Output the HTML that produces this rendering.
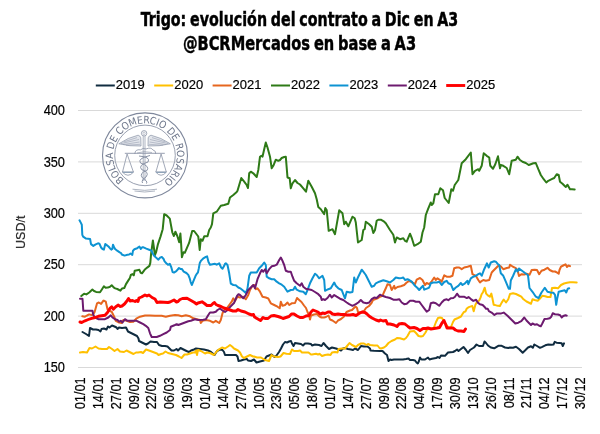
<!DOCTYPE html>
<html><head><meta charset="utf-8"><style>
html,body{margin:0;padding:0;background:#fff;width:600px;height:434px;overflow:hidden}
svg{display:block}
.ax{font-family:"Liberation Sans", Arial, sans-serif;font-size:13px;fill:#000;stroke:#000;stroke-width:0.18px}
.tt{font-family:"DejaVu Sans Condensed","DejaVu Sans",sans-serif;font-stretch:condensed;font-size:20px;word-spacing:-1.5px;font-weight:bold;fill:#000;stroke:#000;stroke-width:0.45px}
</style></head><body>
<svg width="600" height="434" viewBox="0 0 600 434">
<line x1="78" y1="110.5" x2="582" y2="110.5" stroke="#d9d9d9" stroke-width="1"/>
<line x1="78" y1="161.9" x2="582" y2="161.9" stroke="#d9d9d9" stroke-width="1"/>
<line x1="78" y1="213.3" x2="582" y2="213.3" stroke="#d9d9d9" stroke-width="1"/>
<line x1="78" y1="264.7" x2="582" y2="264.7" stroke="#d9d9d9" stroke-width="1"/>
<line x1="78" y1="316.1" x2="582" y2="316.1" stroke="#d9d9d9" stroke-width="1"/>
<line x1="78" y1="367.5" x2="582" y2="367.5" stroke="#d9d9d9" stroke-width="1"/>
<text transform="translate(65,115.25) scale(0.985,1.1)" text-anchor="end" class="ax">400</text>
<text transform="translate(65,166.65) scale(0.985,1.1)" text-anchor="end" class="ax">350</text>
<text transform="translate(65,218.05) scale(0.985,1.1)" text-anchor="end" class="ax">300</text>
<text transform="translate(65,269.45) scale(0.985,1.1)" text-anchor="end" class="ax">250</text>
<text transform="translate(65,320.85) scale(0.985,1.1)" text-anchor="end" class="ax">200</text>
<text transform="translate(65,372.25) scale(0.985,1.1)" text-anchor="end" class="ax">150</text>
<text transform="translate(85.00,377.3) rotate(-90) scale(0.985,1.1)" text-anchor="end" class="ax">01/01</text>
<text transform="translate(102.86,377.3) rotate(-90) scale(0.985,1.1)" text-anchor="end" class="ax">14/01</text>
<text transform="translate(120.71,377.3) rotate(-90) scale(0.985,1.1)" text-anchor="end" class="ax">27/01</text>
<text transform="translate(138.57,377.3) rotate(-90) scale(0.985,1.1)" text-anchor="end" class="ax">09/02</text>
<text transform="translate(156.43,377.3) rotate(-90) scale(0.985,1.1)" text-anchor="end" class="ax">22/02</text>
<text transform="translate(174.29,377.3) rotate(-90) scale(0.985,1.1)" text-anchor="end" class="ax">06/03</text>
<text transform="translate(192.14,377.3) rotate(-90) scale(0.985,1.1)" text-anchor="end" class="ax">19/03</text>
<text transform="translate(210.00,377.3) rotate(-90) scale(0.985,1.1)" text-anchor="end" class="ax">01/04</text>
<text transform="translate(227.86,377.3) rotate(-90) scale(0.985,1.1)" text-anchor="end" class="ax">14/04</text>
<text transform="translate(245.71,377.3) rotate(-90) scale(0.985,1.1)" text-anchor="end" class="ax">27/04</text>
<text transform="translate(263.57,377.3) rotate(-90) scale(0.985,1.1)" text-anchor="end" class="ax">10/05</text>
<text transform="translate(281.43,377.3) rotate(-90) scale(0.985,1.1)" text-anchor="end" class="ax">23/05</text>
<text transform="translate(299.29,377.3) rotate(-90) scale(0.985,1.1)" text-anchor="end" class="ax">05/06</text>
<text transform="translate(317.14,377.3) rotate(-90) scale(0.985,1.1)" text-anchor="end" class="ax">18/06</text>
<text transform="translate(335.00,377.3) rotate(-90) scale(0.985,1.1)" text-anchor="end" class="ax">01/07</text>
<text transform="translate(352.86,377.3) rotate(-90) scale(0.985,1.1)" text-anchor="end" class="ax">14/07</text>
<text transform="translate(370.71,377.3) rotate(-90) scale(0.985,1.1)" text-anchor="end" class="ax">27/07</text>
<text transform="translate(388.57,377.3) rotate(-90) scale(0.985,1.1)" text-anchor="end" class="ax">09/08</text>
<text transform="translate(406.43,377.3) rotate(-90) scale(0.985,1.1)" text-anchor="end" class="ax">22/08</text>
<text transform="translate(424.29,377.3) rotate(-90) scale(0.985,1.1)" text-anchor="end" class="ax">04/09</text>
<text transform="translate(442.14,377.3) rotate(-90) scale(0.985,1.1)" text-anchor="end" class="ax">17/09</text>
<text transform="translate(460.00,377.3) rotate(-90) scale(0.985,1.1)" text-anchor="end" class="ax">30/09</text>
<text transform="translate(477.86,377.3) rotate(-90) scale(0.985,1.1)" text-anchor="end" class="ax">13/10</text>
<text transform="translate(495.71,377.3) rotate(-90) scale(0.985,1.1)" text-anchor="end" class="ax">26/10</text>
<text transform="translate(513.57,377.3) rotate(-90) scale(0.985,1.1)" text-anchor="end" class="ax">08/11</text>
<text transform="translate(531.43,377.3) rotate(-90) scale(0.985,1.1)" text-anchor="end" class="ax">21/11</text>
<text transform="translate(549.29,377.3) rotate(-90) scale(0.985,1.1)" text-anchor="end" class="ax">04/12</text>
<text transform="translate(567.14,377.3) rotate(-90) scale(0.985,1.1)" text-anchor="end" class="ax">17/12</text>
<text transform="translate(585.00,377.3) rotate(-90) scale(0.985,1.1)" text-anchor="end" class="ax">30/12</text>
<text transform="translate(24.6,232.3) rotate(-90)" text-anchor="middle" class="ax" style="font-size:12.5px;fill:#333">USD/t</text>
<g id="logo" fill="none" stroke="#7f889c" stroke-width="0.9">
<circle cx="145.0" cy="155.4" r="42.5" stroke-width="1.1"/>
<circle cx="145.0" cy="155.4" r="30.3" stroke-width="0.8"/>
<path id="arc" d="M 124.26 179.77 A 32.0 32.0 0 1 1 163.76 181.32" stroke="none"/>
<text font-family="DejaVu Sans Condensed, DejaVu Sans, sans-serif" font-stretch="condensed" font-size="10.2" fill="#6e778b" stroke="none"><textPath href="#arc" textLength="158.4" lengthAdjust="spacing">BOLSA DE COMERCIO DE ROSARIO</textPath></text>
<g stroke="#8a93a6">
<circle cx="144.1" cy="133.3" r="2.7" stroke-width="0.8"/><circle cx="144.1" cy="133.3" r="1.2" stroke-width="0.5"/>
<path d="M143.2 136.1 V 181 M145 136.1 V 181" stroke-width="0.7"/>
<path d="M118.8 143.8 Q 128 137.5 138.1 135.2 Q 140 135.5 140.8 137.8 L 141 146 Q 130 146.5 118.8 143.8 Z" fill="#e2e5eb" stroke-width="0.7"/>
<path d="M170.4 143.8 Q 161 137.5 151 135.2 Q 149 135.5 148.2 137.8 L 148 146 Q 159 146.5 170.4 143.8 Z" fill="#e2e5eb" stroke-width="0.7"/>
<path d="M121 143.6 L 139 139.5 M123 144.6 L 139.5 142 M126 145.3 L 140 144.3 M124 141.8 L 137 137.6" stroke-width="0.5"/>
<path d="M168.2 143.6 L 150 139.5 M166.2 144.6 L 149.5 142 M163.2 145.3 L 149 144.3 M165.2 141.8 L 152 137.6" stroke-width="0.5"/>
<path d="M134.8 154 Q 135 149 140.5 149.8 Q 143 147.5 146 149 Q 151 146.8 153 150 Q 156 150.5 155.8 154" stroke-width="0.8"/><path d="M137 153 Q 144 150.5 152 152.5" stroke-width="0.6"/>
<path d="M124.8 153.3 H 164.8" stroke-width="0.9"/>
<path d="M127.1 154 L 122.5 172 M127.1 154 L 133.4 172 M122.3 172 H 133.6 Q 128 178.5 122.3 172" stroke-width="0.8"/>
<path d="M161.1 154 L 155.9 172 M161.1 154 L 166.3 172 M155.7 172 H 166.5 Q 161 178.5 155.7 172" stroke-width="0.8"/>
<path d="M122.8 172.4 H 133.2 M156.2 172.4 H 166" stroke="#8fa3b8" stroke-width="1.4"/>
<path d="M139 156 Q 151 157 148 162 Q 138 165 141.5 169.5 Q 150 172 146 177 Q 141 180 142.5 183 M150 155.5 Q 137 158.5 140.5 163 Q 150 166 147 170.5 Q 138.5 173 142.5 178 Q 148 181 146.5 183.5" stroke-width="1"/>
<path d="M132.5 189.2 Q 144.6 191.5 157 189.2 M134.5 191 Q 144.6 193 155 191" stroke-width="0.7"/>
</g>
</g>

<polyline points="82.5,332.0 86.0,334.0 89.0,336.0 90.0,328.0 93.0,329.5 96.0,329.5 98.5,330.0 100.5,331.5 101.5,329.0 104.0,328.5 106.5,329.5 108.0,326.5 109.5,327.5 112.0,325.5 114.5,326.5 116.5,327.5 117.5,329.0 119.0,327.5 122.0,328.0 126.0,327.5 128.0,331.5 131.0,333.0 134.0,334.5 137.0,336.0 138.5,338.5 139.0,341.0 142.0,342.5 146.0,344.5 148.0,343.5 150.5,341.5 154.0,342.0 157.0,342.0 159.0,345.0 162.0,346.0 165.0,346.0 167.5,346.5 169.5,348.5 171.5,350.5 174.0,350.5 176.5,349.0 178.0,350.5 180.5,348.0 183.5,349.5 186.5,351.0 189.0,352.0 191.0,350.5 194.0,349.5 196.0,348.5 200.0,349.0 204.0,349.5 208.0,350.5 211.0,352.0 214.5,355.0 217.0,351.0 220.0,349.5 222.5,350.0 224.0,352.0 225.0,355.0 228.0,355.0 232.0,355.0 236.0,355.0 237.5,356.5 238.5,361.0 241.0,360.5 244.0,359.5 247.0,359.0 248.0,360.5 251.0,361.0 254.0,359.5 256.5,362.5 260.0,361.5 264.0,360.5 266.5,356.5 269.0,355.5 271.5,354.5 274.5,357.0 276.5,355.5 279.0,352.0 281.0,348.5 283.0,344.5 285.0,342.0 287.0,342.5 289.0,341.5 291.0,341.0 292.0,343.5 293.5,346.0 295.0,343.0 298.0,343.5 301.0,344.0 303.0,345.5 305.0,343.5 308.0,343.5 311.0,344.0 312.0,345.5 315.0,344.5 319.0,345.0 321.5,346.0 323.5,343.0 326.0,346.0 329.0,349.0 332.0,347.5 336.0,348.5 339.0,349.5 341.0,350.5 343.0,348.5 345.0,348.0 348.0,349.0 351.0,349.5 353.0,350.0 355.0,348.5 358.0,350.0 361.0,346.0 364.0,346.5 367.5,346.5 370.0,348.5 370.5,350.5 374.0,350.8 380.0,351.0 382.5,351.0 385.0,353.5 387.0,355.0 388.0,359.0 388.5,361.0 390.0,359.5 391.5,360.0 394.0,359.5 398.0,359.5 403.0,359.5 406.0,359.0 408.5,358.5 410.0,360.0 413.0,360.0 415.0,360.5 416.5,362.5 417.8,363.5 419.0,361.0 420.0,357.5 421.5,359.5 425.0,359.5 428.0,357.5 429.5,359.5 432.0,358.8 436.0,358.0 438.0,357.0 439.5,358.0 441.0,355.5 445.0,355.8 448.0,352.5 453.0,352.0 455.0,351.0 457.0,349.5 458.5,351.0 461.0,349.0 463.5,347.0 466.0,350.0 468.0,353.0 470.0,350.0 474.0,347.5 476.5,344.5 479.0,346.0 483.0,346.0 484.5,341.5 486.0,343.0 488.0,345.5 490.8,347.5 494.2,348.3 498.3,345.8 501.7,345.8 505.0,347.5 508.3,348.0 510.0,347.5 513.0,347.8 516.0,346.8 519.0,349.0 522.7,352.7 525.0,350.5 528.0,347.5 531.0,346.3 532.8,347.8 534.3,344.5 537.0,346.0 540.0,347.8 542.3,346.8 545.3,345.3 548.3,344.5 551.3,344.8 553.5,344.5 554.7,341.8 556.5,342.7 559.5,343.0 561.7,343.3 562.8,346.0 564.0,343.3" fill="none" stroke="#102c40" stroke-width="2.0" stroke-linejoin="round" stroke-linecap="round"/>
<polyline points="80.0,352.5 83.0,352.0 87.0,352.5 89.5,348.0 92.0,348.5 95.5,346.5 98.5,348.5 102.0,349.0 107.0,349.0 109.0,347.0 112.0,349.0 114.5,351.0 117.5,349.0 120.0,351.5 124.0,352.0 126.5,350.5 129.5,352.0 133.5,354.0 136.0,352.5 138.0,352.5 141.0,352.0 143.0,353.0 146.0,349.5 149.0,350.5 153.0,352.0 157.0,353.5 158.5,355.0 161.0,354.0 163.0,353.5 165.5,351.5 168.0,353.0 172.0,354.0 176.0,355.0 179.0,356.5 181.5,358.0 184.5,354.5 187.0,354.5 190.0,353.5 193.0,352.5 195.0,352.5 196.0,350.5 197.0,355.0 198.0,350.0 201.0,351.0 205.0,353.5 207.0,352.5 210.0,353.0 214.0,355.0 217.0,351.0 219.5,349.0 222.0,347.5 225.0,348.5 228.0,346.5 230.0,345.0 232.0,346.5 234.0,348.5 238.0,350.5 240.0,352.5 242.0,356.5 244.0,358.0 247.0,356.5 250.0,355.0 253.0,356.5 254.0,356.5 257.0,357.5 261.0,357.5 265.0,360.0 269.0,361.0 271.5,355.0 274.0,356.5 278.0,357.0 280.5,356.5 283.5,353.0 286.5,353.8 290.0,354.0 292.0,349.5 294.0,351.0 298.0,351.0 300.0,350.5 302.0,352.5 305.0,352.5 308.5,352.5 311.0,354.5 312.0,354.5 316.0,353.8 318.0,354.5 319.5,353.8 322.0,356.0 325.0,355.0 328.0,354.5 330.5,355.0 332.0,352.5 335.0,352.0 337.5,352.5 338.5,349.0 342.0,348.5 345.0,348.5 347.5,345.5 349.5,343.0 352.0,345.0 356.0,347.0 358.0,345.0 361.0,343.5 364.0,343.5 366.5,345.0 368.0,344.0 370.0,345.0 374.0,345.5 377.5,345.5 379.5,348.0 381.0,348.5 384.0,347.5 386.0,346.0 388.5,343.0 391.5,341.0 395.0,339.5 397.0,338.0 400.0,338.2 404.0,339.5 406.0,338.0 407.5,336.0 410.0,331.5 414.0,331.0 416.0,333.0 418.5,336.0 421.0,336.5 423.0,336.0 425.5,332.5 427.0,329.5 430.0,328.5 433.5,328.5 436.0,322.0 438.0,318.0 440.0,317.5 442.0,318.0 445.0,323.0 449.0,328.0 451.0,327.0 453.0,322.0 454.5,319.5 458.0,318.0 461.0,316.5 462.5,314.0 464.0,311.9 465.4,311.6 466.8,308.5 468.8,307.1 470.9,306.4 472.3,306.0 473.7,311.2 475.4,304.7 476.8,302.2 479.2,300.5 480.6,297.4 481.6,294.3 483.0,292.2 484.7,287.7 486.1,293.6 487.8,295.3 489.9,296.7 491.3,293.6 492.3,297.7 493.7,304.7 496.5,305.4 499.9,306.0 501.7,302.6 503.7,299.5 506.0,302.5 508.3,299.2 510.0,294.0 513.0,293.3 516.0,294.0 519.0,295.5 521.3,296.7 523.5,299.3 526.5,301.5 529.5,303.0 531.0,303.8 532.5,299.3 534.7,300.0 537.7,300.8 540.0,298.5 542.3,295.8 545.3,296.2 547.5,297.0 550.5,297.0 552.0,288.0 555.0,287.7 558.0,288.3 561.0,285.0 564.0,283.5 567.0,282.8 570.0,282.3 573.0,282.3 576.7,282.5" fill="none" stroke="#ffc000" stroke-width="2.0" stroke-linejoin="round" stroke-linecap="round"/>
<polyline points="82.3,316.3 85.0,316.7 87.0,315.5 89.2,314.4 91.0,314.9 93.3,314.4 94.7,311.7 97.0,303.4 98.8,302.5 101.1,303.9 103.4,300.6 104.2,300.8 105.8,301.7 107.5,309.2 109.2,310.8 111.7,311.7 114.2,316.7 115.8,320.8 119.2,322.5 121.7,323.0 123.3,320.0 126.7,320.8 130.0,322.0 133.3,321.7 136.7,318.3 140.0,316.7 145.0,315.5 150.0,315.5 155.0,315.8 161.7,315.8 165.8,316.7 170.0,315.8 175.0,315.0 178.3,315.3 181.7,316.2 185.8,315.3 190.0,316.3 193.3,318.3 196.7,319.2 200.0,320.0 200.8,323.0 202.5,320.8 205.8,320.0 210.0,320.8 213.3,322.5 215.8,320.8 219.2,323.0 220.8,320.0 222.5,313.3 224.2,310.0 226.7,308.3 229.2,305.0 231.7,301.7 233.3,298.3 235.0,300.8 237.5,296.7 240.0,297.5 243.3,296.7 245.8,299.2 248.3,295.0 250.0,290.0 252.5,285.8 254.2,285.0 255.8,289.2 257.5,288.3 260.0,291.7 262.5,296.7 265.8,297.5 268.3,298.5 270.8,303.3 274.2,305.0 277.5,306.7 279.7,308.3 280.8,301.7 282.5,305.8 285.0,305.0 287.5,302.5 289.2,305.0 291.7,303.3 295.0,303.0 297.0,298.0 299.2,300.0 301.5,302.0 304.0,305.5 306.0,308.0 307.5,312.0 309.0,315.0 310.0,319.5 311.0,315.5 314.0,314.5 317.0,314.0 319.5,316.5 321.5,317.5 324.0,317.5 326.0,317.0 328.5,315.5 330.0,319.5 332.5,320.5 336.0,323.0 338.0,320.5 341.0,319.0 344.0,316.5 346.5,312.0 350.0,310.5 352.0,310.0 355.5,306.5 357.0,308.0 358.0,312.0 361.0,312.5 364.0,311.0 366.0,308.0 369.0,306.0 371.5,303.0 373.0,300.0 375.0,299.2 377.5,298.3 380.0,296.7 382.5,295.8 384.2,291.7 385.8,288.3 387.5,284.2 390.0,285.0 391.7,290.0 394.2,285.8 395.0,288.7 397.5,287.0 400.8,286.3 404.2,285.0 406.7,282.5 409.2,280.8 412.5,282.5 415.0,284.2 416.7,279.7 420.0,278.0 422.5,280.0 425.0,285.0 426.7,283.0 429.2,284.2 431.7,281.3 434.2,277.5 435.8,280.0 437.5,278.3 440.0,280.0 441.7,281.7 444.2,275.3 446.7,276.7 450.0,276.7 452.5,275.8 454.2,268.3 456.7,267.5 459.2,267.5 461.7,269.2 464.2,267.5 467.5,266.7 470.8,265.8 472.5,274.2 475.8,275.8 478.3,280.0 480.0,282.5 480.8,281.7 483.3,280.0 485.8,280.8 489.2,280.0 491.7,272.5 493.3,270.8 495.8,268.3 498.3,265.8 500.8,266.3 503.3,269.2 506.7,268.0 509.2,267.5 510.0,264.7 512.3,266.3 515.3,267.8 517.5,270.0 519.0,276.0 521.3,274.2 524.3,274.5 526.5,273.8 529.5,274.8 531.7,270.0 534.7,269.7 537.0,270.0 539.2,274.2 541.5,270.8 544.5,269.7 547.5,267.8 549.7,270.0 552.7,271.5 555.0,271.5 557.2,272.7 558.7,273.7 559.5,270.0 561.0,266.7 563.2,265.5 565.5,264.3 567.0,267.0 568.5,265.5 570.0,266.2" fill="none" stroke="#e6661f" stroke-width="2.0" stroke-linejoin="round" stroke-linecap="round"/>
<polyline points="81.3,296.0 84.1,293.7 86.4,294.4 89.2,292.5 92.4,289.6 94.0,291.0 96.1,291.9 100.0,292.3 101.7,289.7 103.9,286.3 105.6,287.8 107.8,287.6 110.0,286.7 111.7,285.2 113.9,287.6 115.2,288.4 117.3,289.0 120.4,290.6 122.1,288.4 124.3,288.0 126.0,284.1 128.2,280.6 129.9,278.0 130.8,275.0 132.5,274.1 133.8,275.4 134.7,270.7 137.3,270.2 139.4,269.8 140.7,272.8 142.0,273.3 144.6,269.8 147.2,267.6 149.4,265.9 150.3,262.9 151.1,253.8 152.9,240.5 154.9,255.0 156.0,252.4 158.0,244.1 160.5,236.6 162.7,229.2 164.2,214.2 166.7,215.5 169.8,218.6 172.3,232.3 173.9,236.0 175.4,231.7 177.3,236.0 179.2,242.2 180.4,233.5 181.0,241.6 181.9,257.2 183.5,252.2 184.8,252.8 189.1,242.9 192.2,231.0 194.1,231.0 197.9,236.0 198.3,236.7 199.7,250.0 200.8,239.2 202.5,240.8 204.2,236.3 207.5,236.3 209.2,230.0 210.8,227.5 212.0,224.2 213.3,213.3 216.7,211.7 220.8,205.8 224.2,205.0 228.3,203.7 230.0,197.5 233.3,195.0 236.7,192.0 237.5,190.8 239.2,185.0 241.3,178.0 244.2,181.7 246.7,185.0 248.0,188.0 249.2,173.3 250.8,171.7 253.3,173.3 256.7,177.0 258.3,170.0 260.0,156.7 261.3,155.8 262.5,156.7 264.2,149.2 265.8,142.5 267.5,147.5 270.0,156.7 271.7,168.3 273.3,165.8 275.8,159.7 278.3,160.8 280.0,160.0 281.7,158.0 284.2,157.0 285.8,156.7 287.5,177.5 289.7,178.3 290.8,188.3 292.5,183.3 295.0,180.0 297.5,183.0 300.0,184.5 303.3,188.3 306.0,191.7 308.3,180.8 311.7,186.7 315.0,193.3 316.7,199.2 318.3,207.0 320.8,209.2 324.2,214.2 325.3,208.0 326.7,210.0 328.7,230.8 332.5,229.2 335.0,234.2 339.2,210.3 342.5,213.3 344.2,224.2 345.8,221.7 348.3,226.3 352.5,216.7 354.7,218.3 355.8,222.5 358.0,242.5 361.7,240.0 363.3,230.0 364.7,229.2 365.8,221.7 369.2,224.2 371.7,226.7 373.3,233.0 375.0,230.0 376.7,220.8 378.3,219.7 380.8,219.7 384.2,221.7 385.8,223.3 390.0,230.0 393.3,234.7 395.0,242.5 396.7,237.5 400.0,239.2 403.3,238.3 405.0,240.8 406.7,241.7 410.0,233.7 412.0,238.7 414.2,245.8 417.5,244.2 420.8,241.7 422.5,232.5 424.2,227.5 425.8,215.0 428.3,208.3 430.8,202.5 431.7,205.0 433.3,203.3 435.0,194.2 438.3,194.2 440.3,188.3 443.0,190.3 444.7,198.0 448.7,203.0 451.3,189.2 453.0,190.8 454.7,185.0 458.3,180.0 461.7,163.3 465.8,159.2 470.8,152.5 472.5,174.2 475.0,170.8 478.3,169.2 479.2,170.8 481.7,165.8 483.7,153.3 486.7,155.8 489.2,157.5 490.3,165.8 493.0,168.7 495.3,164.2 498.0,156.3 500.0,168.3 500.8,165.0 503.3,165.8 506.7,168.0 509.2,174.2 511.7,160.8 515.8,159.7 517.5,156.7 519.7,159.7 522.5,161.7 525.8,163.0 528.7,165.0 530.8,164.2 533.3,163.3 535.8,163.0 538.3,169.2 540.8,175.0 543.7,179.2 546.3,182.5 548.3,180.8 551.7,179.2 554.2,178.0 556.7,174.2 558.7,175.0 560.0,181.7 562.5,183.7 565.0,186.3 565.8,187.0 567.5,184.7 570.0,189.2 572.0,189.2 574.7,189.5" fill="none" stroke="#2e7a17" stroke-width="2.0" stroke-linejoin="round" stroke-linecap="round"/>
<polyline points="79.5,220.3 80.9,222.9 81.8,224.7 82.3,234.9 83.2,236.7 86.0,238.6 90.1,239.0 91.0,244.1 93.3,245.9 95.7,244.3 98.0,243.3 99.4,243.7 101.1,247.5 102.5,249.0 103.9,249.6 105.3,244.0 106.7,245.1 108.5,246.5 109.9,248.2 111.3,249.6 112.3,249.0 113.0,244.7 114.1,247.2 115.1,249.0 117.2,250.7 119.7,252.4 121.1,253.1 121.8,254.5 124.6,255.6 127.4,254.8 129.1,254.5 130.5,253.5 132.3,254.9 133.0,250.7 134.4,249.3 137.2,248.3 138.3,247.3 139.4,246.6 140.8,249.0 142.1,247.3 143.5,247.3 146.3,248.6 149.1,249.7 151.5,250.7 152.5,253.1 153.9,255.5 156.0,257.6 158.4,259.7 160.1,257.6 161.8,256.9 163.6,259.0 164.6,261.4 166.3,263.2 168.0,264.8 169.8,263.8 171.2,267.0 172.6,272.1 174.0,272.6 176.3,271.2 179.0,268.0 180.4,268.9 181.8,268.9 183.7,271.6 186.4,273.0 188.3,274.9 189.6,278.1 190.6,281.8 191.8,285.0 193.3,281.3 195.6,275.8 197.0,273.5 197.9,272.6 198.8,268.4 199.8,262.9 201.1,260.6 203.0,258.7 205.8,256.9 207.1,256.4 208.5,262.0 210.0,264.7 215.0,263.8 216.7,264.7 219.2,263.3 220.8,266.7 221.2,267.5 222.5,268.7 224.2,265.8 225.0,263.8 225.8,263.3 227.5,265.0 229.2,273.3 230.8,283.7 233.3,285.0 235.8,285.3 238.3,287.5 240.8,288.7 243.3,290.8 245.8,293.0 247.5,288.3 249.2,275.8 250.8,272.5 256.7,272.5 259.2,268.3 261.7,265.8 264.2,262.5 265.8,265.0 266.7,276.7 269.2,278.3 271.7,279.2 274.2,279.2 276.7,281.7 279.2,283.3 281.7,284.7 284.2,286.7 287.5,291.7 290.8,290.0 293.3,289.7 295.0,286.7 296.7,289.7 300.0,291.3 303.3,291.7 305.8,294.2 307.5,290.0 310.0,283.3 312.5,278.3 315.0,273.7 316.7,275.0 319.2,278.3 322.5,275.8 324.2,280.0 325.0,290.8 328.3,289.2 330.8,288.3 334.2,282.5 335.8,285.8 338.3,288.3 341.7,290.0 343.3,294.2 345.0,298.3 346.7,291.7 350.0,292.5 352.5,292.0 354.2,277.5 355.8,282.5 358.3,276.7 361.7,269.7 363.3,271.7 365.8,275.0 368.3,280.0 371.7,286.7 374.2,285.8 375.8,283.3 379.2,281.7 383.3,280.3 386.7,281.3 390.0,282.5 393.3,280.0 395.8,277.5 399.2,278.3 401.7,278.0 403.3,277.5 405.0,280.0 407.5,279.2 409.2,280.0 411.7,281.7 415.0,285.8 417.5,288.0 419.2,290.0 421.3,287.5 423.0,285.8 424.2,289.7 427.5,288.3 429.2,287.5 430.8,283.3 433.3,282.5 436.7,282.5 439.2,281.7 441.7,285.0 444.2,282.0 446.7,280.8 448.3,283.3 450.8,284.2 453.3,290.0 455.8,287.5 458.3,285.8 460.8,283.0 462.5,285.0 465.0,283.3 467.5,280.8 468.3,284.2 470.8,278.3 473.3,276.7 475.8,275.8 478.3,274.2 480.0,273.3 481.7,275.8 484.2,269.2 487.0,263.3 488.7,267.5 490.8,262.5 494.2,261.3 495.8,261.7 497.5,263.7 499.2,265.0 500.8,273.3 503.3,275.8 505.8,281.7 508.7,288.7 510.0,288.8 510.8,280.5 513.0,276.0 516.0,269.2 517.5,271.5 519.0,268.5 522.0,270.8 525.0,273.0 528.0,275.3 529.5,288.0 532.5,291.8 535.5,296.3 538.5,298.2 541.5,292.5 544.8,287.7 547.5,291.8 550.5,292.5 553.5,292.8 555.0,294.8 556.2,304.8 557.2,298.5 558.7,291.8 561.7,291.0 564.7,290.2 566.2,292.5 567.7,288.8 569.2,288.3" fill="none" stroke="#0d93d2" stroke-width="2.0" stroke-linejoin="round" stroke-linecap="round"/>
<polyline points="80.0,298.7 82.5,298.7 83.3,310.8 86.7,310.8 92.5,310.8 93.3,315.0 95.0,317.5 98.3,319.2 101.7,319.2 105.0,319.2 108.3,317.5 110.8,315.3 112.5,317.5 115.0,319.2 117.5,320.0 119.2,321.7 120.8,320.8 122.5,322.5 125.0,319.2 127.5,320.8 130.0,320.8 132.5,320.8 136.7,320.8 140.0,322.5 143.3,324.2 145.8,325.8 148.3,328.0 150.0,333.3 151.7,337.0 156.7,337.0 160.0,335.8 163.3,334.2 166.7,332.5 170.0,330.0 170.8,326.7 175.0,325.0 176.7,324.2 178.3,325.0 181.7,323.7 185.0,322.5 188.3,321.3 190.8,320.8 195.0,319.2 198.3,320.0 203.3,319.7 205.8,319.2 208.3,315.0 210.0,312.5 213.3,312.5 215.8,311.7 217.5,310.0 220.0,308.5 222.5,310.5 225.0,312.0 227.0,310.5 230.0,307.0 234.0,303.0 237.0,296.0 238.5,294.2 240.0,295.0 243.3,298.3 245.8,295.0 248.3,290.0 250.8,287.5 253.3,285.0 255.0,288.3 257.5,279.2 260.0,273.3 261.7,270.0 263.3,271.7 265.3,269.2 266.7,273.3 269.2,269.2 271.7,266.3 274.2,265.8 276.7,264.7 279.2,260.0 280.8,257.5 282.5,260.8 284.2,265.0 285.8,270.8 288.3,271.7 290.8,271.7 292.5,276.7 294.2,280.8 296.7,283.3 300.0,285.8 301.7,283.3 303.3,286.7 305.8,288.7 308.3,289.2 311.7,290.0 315.0,292.0 318.3,294.2 320.8,296.7 321.7,300.0 323.3,299.2 325.0,300.0 327.5,298.0 330.0,294.7 331.7,297.5 334.2,295.0 336.7,296.7 340.0,298.7 343.3,300.0 346.7,302.5 349.2,304.2 352.5,305.8 355.8,304.2 358.3,302.5 360.8,300.0 363.3,302.5 366.7,303.3 369.2,302.5 371.7,299.2 374.2,297.5 376.7,298.0 380.0,294.7 382.5,295.8 385.8,297.0 390.0,298.0 393.3,299.7 396.7,299.7 399.2,299.2 401.7,302.5 404.2,304.2 406.7,303.7 410.0,300.8 413.3,300.8 415.8,301.7 419.2,301.7 421.7,305.0 424.2,308.3 426.7,311.7 429.2,310.0 430.8,303.3 433.3,302.5 435.8,303.3 439.2,305.8 441.7,302.5 444.2,300.0 446.7,299.2 448.3,300.3 450.8,298.3 453.3,298.0 455.0,296.7 457.0,293.7 459.2,296.7 462.5,296.7 464.0,296.7 466.8,298.1 468.5,297.1 470.9,299.1 473.3,300.9 476.1,299.8 477.8,302.6 479.9,304.3 482.7,305.0 484.4,306.7 486.1,308.8 487.8,308.8 488.9,311.2 491.6,312.6 494.4,315.0 496.5,313.6 500.6,313.6 503.7,312.6 507.5,315.8 510.0,318.2 512.3,320.5 515.3,323.5 518.3,322.7 521.3,321.2 524.3,317.5 526.5,320.5 528.7,322.7 531.0,325.0 532.5,323.5 534.7,324.7 537.0,324.2 539.2,325.8 540.8,326.2 542.3,323.5 544.5,319.0 547.5,318.7 549.7,318.2 551.3,316.7 552.7,313.3 555.0,314.2 558.0,314.5 560.2,315.2 561.7,317.5 563.2,316.0 565.5,315.2 566.7,315.7" fill="none" stroke="#6d1a6f" stroke-width="2.0" stroke-linejoin="round" stroke-linecap="round"/>
<polyline points="80.0,322.0 81.7,322.5 85.0,320.8 88.3,319.5 91.7,318.3 95.0,317.5 98.3,316.3 101.7,315.8 105.0,315.3 107.5,312.5 110.0,308.3 111.7,306.7 113.3,309.2 115.8,306.7 118.3,305.0 120.0,306.5 122.0,306.0 124.5,304.0 126.5,301.5 128.5,298.5 130.0,301.0 132.5,300.5 135.0,301.5 136.5,300.5 138.0,301.5 139.0,298.0 141.5,297.0 145.0,295.0 147.0,296.0 149.0,295.0 152.0,297.5 155.0,299.0 157.0,302.5 160.0,302.0 164.0,302.2 168.0,302.5 170.0,302.0 172.0,301.0 174.0,300.0 176.5,302.0 178.0,301.5 180.0,299.5 182.5,298.5 187.0,298.2 191.0,300.5 194.5,302.5 196.5,304.0 198.0,303.0 202.0,301.8 204.5,303.5 207.0,305.5 211.0,305.5 213.0,303.5 214.5,302.5 216.0,304.5 218.0,305.5 221.0,306.5 224.0,308.0 227.0,309.0 230.0,310.0 233.0,311.0 236.0,311.0 238.0,309.5 241.0,311.0 245.0,312.0 249.0,314.0 252.0,315.0 253.5,314.5 254.5,317.0 257.0,318.5 260.5,320.5 263.0,317.5 265.0,318.5 268.0,318.5 271.0,316.0 274.0,315.5 278.0,316.5 281.0,317.5 283.0,318.5 286.0,317.5 289.0,316.5 291.5,314.0 294.0,314.0 297.0,316.0 300.0,317.5 303.0,317.5 306.0,316.0 309.0,315.5 311.0,312.0 313.0,310.0 315.5,311.0 318.0,312.0 319.5,313.5 321.0,314.0 322.5,313.0 325.0,313.5 328.0,312.0 330.0,312.0 332.5,314.0 335.0,314.5 338.0,314.0 341.0,314.5 344.0,314.5 347.0,315.0 350.0,315.0 353.0,314.5 356.0,315.5 359.0,313.5 362.0,312.0 365.0,312.5 367.0,314.0 369.0,316.0 372.0,318.0 376.0,320.0 379.0,321.0 380.5,320.0 383.0,321.0 386.0,320.5 387.5,324.0 390.0,324.0 394.0,325.0 397.0,326.5 399.0,324.0 402.0,323.5 405.0,324.0 408.0,326.5 410.0,328.0 414.0,327.5 417.0,328.5 420.0,330.5 423.0,328.5 426.0,328.5 428.0,328.0 431.0,329.0 434.0,328.5 437.0,328.0 439.5,327.5 442.0,323.0 444.0,320.5 445.5,324.0 447.0,328.0 450.0,328.0 453.0,328.0 455.5,330.0 458.0,331.0 461.0,331.0 464.0,331.5 465.5,329.0" fill="none" stroke="#ff0000" stroke-width="2.9" stroke-linejoin="round" stroke-linecap="round"/>
<line x1="95.8" y1="85.5" x2="114.8" y2="85.5" stroke="#102c40" stroke-width="2.0"/>
<text transform="translate(115.8,88.9) scale(1,1.02)" class="ax">2019</text>
<line x1="154.2" y1="85.5" x2="173.2" y2="85.5" stroke="#ffc000" stroke-width="2.0"/>
<text transform="translate(174.2,88.9) scale(1,1.02)" class="ax">2020</text>
<line x1="212.6" y1="85.5" x2="231.6" y2="85.5" stroke="#e6661f" stroke-width="2.0"/>
<text transform="translate(232.6,88.9) scale(1,1.02)" class="ax">2021</text>
<line x1="271.0" y1="85.5" x2="290.0" y2="85.5" stroke="#2e7a17" stroke-width="2.0"/>
<text transform="translate(291.0,88.9) scale(1,1.02)" class="ax">2022</text>
<line x1="329.4" y1="85.5" x2="348.4" y2="85.5" stroke="#0d93d2" stroke-width="2.0"/>
<text transform="translate(349.4,88.9) scale(1,1.02)" class="ax">2023</text>
<line x1="387.8" y1="85.5" x2="406.8" y2="85.5" stroke="#6d1a6f" stroke-width="2.0"/>
<text transform="translate(407.8,88.9) scale(1,1.02)" class="ax">2024</text>
<line x1="446.2" y1="85.5" x2="465.2" y2="85.5" stroke="#ff0000" stroke-width="2.9"/>
<text transform="translate(466.2,88.9) scale(1,1.02)" class="ax">2025</text>
<text x="299.5" y="25.8" text-anchor="middle" class="tt" textLength="317.5" lengthAdjust="spacingAndGlyphs">Trigo: evolución del contrato a Dic en A3</text>
<text x="299.5" y="49.6" text-anchor="middle" class="tt" textLength="233.2" lengthAdjust="spacingAndGlyphs">@BCRMercados en base a A3</text>
</svg>
</body></html>
